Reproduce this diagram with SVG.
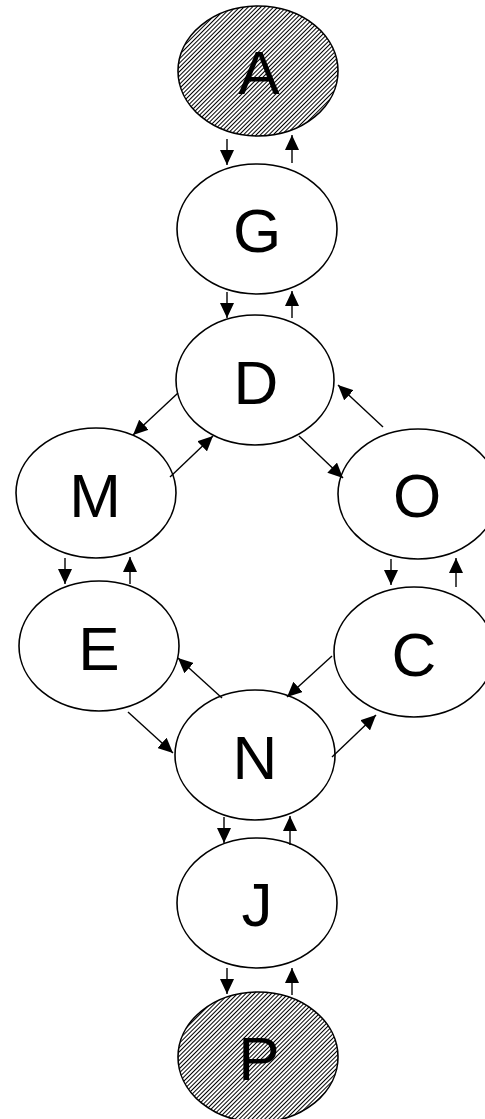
<svg xmlns="http://www.w3.org/2000/svg" width="485" height="1119" viewBox="0 0 485 1119">
<defs>
<pattern id="hatch" width="3" height="10" patternUnits="userSpaceOnUse" patternTransform="rotate(45)">
<line x1="0.5" y1="0" x2="0.5" y2="10" stroke="#000" stroke-width="1"/>
</pattern>
<marker id="ah" markerWidth="15" markerHeight="14" refX="15" refY="7" orient="auto" markerUnits="userSpaceOnUse">
<path d="M0,0 L15,7 L0,14 Z" fill="#000"/>
</marker>
</defs>
<style>
.n{fill:#fff;stroke:#000;stroke-width:1.6}
.h{fill:url(#hatch);stroke:#000;stroke-width:1.6}
.t{font-family:"Liberation Sans",Arial,sans-serif;font-size:62px;text-anchor:middle;fill:#000}
.c line{stroke:#000;stroke-width:1.4;marker-end:url(#ah)}
</style>
<rect width="485" height="1119" fill="#fff"/>
<g id="A"><ellipse class="h" cx="258" cy="71" rx="80" ry="65"/><text class="t" x="259" y="94">A</text></g>
<g id="G"><ellipse class="n" cx="257" cy="229" rx="80" ry="65"/><text class="t" x="257" y="252">G</text></g>
<g id="D"><ellipse class="n" cx="255" cy="380" rx="79" ry="65"/><text class="t" x="256" y="404">D</text></g>
<g id="M"><ellipse class="n" cx="96" cy="493" rx="80" ry="65"/><text class="t" x="95" y="517">M</text></g>
<g id="O"><ellipse class="n" cx="418" cy="494" rx="80" ry="65"/><text class="t" x="417" y="517">O</text></g>
<g id="E"><ellipse class="n" cx="99" cy="646" rx="80" ry="65"/><text class="t" x="99" y="670">E</text></g>
<g id="C"><ellipse class="n" cx="414" cy="652" rx="80" ry="65"/><text class="t" x="414" y="676">C</text></g>
<g id="N"><ellipse class="n" cx="255" cy="755" rx="80" ry="65"/><text class="t" x="255" y="779">N</text></g>
<g id="J"><ellipse class="n" cx="257" cy="903" rx="80" ry="65"/><text class="t" x="257" y="926">J</text></g>
<g id="P"><ellipse class="h" cx="258" cy="1057" rx="80" ry="65"/><text class="t" x="259" y="1080">P</text></g>
<g id="connectors" class="c">
<line x1="227" y1="139" x2="227" y2="165"/>
<line x1="292" y1="163" x2="292" y2="135"/>
<line x1="227" y1="292" x2="227" y2="318"/>
<line x1="292" y1="318" x2="292" y2="291"/>
<line x1="178" y1="393" x2="133" y2="435"/>
<line x1="170" y1="477" x2="213" y2="436"/>
<line x1="383" y1="427" x2="338" y2="385"/>
<line x1="299" y1="436" x2="343" y2="478"/>
<line x1="65" y1="558" x2="65" y2="584"/>
<line x1="130" y1="584" x2="130" y2="557"/>
<line x1="391" y1="559" x2="391" y2="585"/>
<line x1="456" y1="587" x2="456" y2="558"/>
<line x1="222" y1="698" x2="178" y2="658"/>
<line x1="128" y1="712" x2="173" y2="753"/>
<line x1="332" y1="656" x2="287" y2="697"/>
<line x1="332" y1="757" x2="376" y2="715"/>
<line x1="224" y1="817" x2="224" y2="843"/>
<line x1="290" y1="845" x2="290" y2="816"/>
<line x1="227" y1="968" x2="227" y2="994"/>
<line x1="292" y1="995" x2="292" y2="968"/>
</g>
</svg>
